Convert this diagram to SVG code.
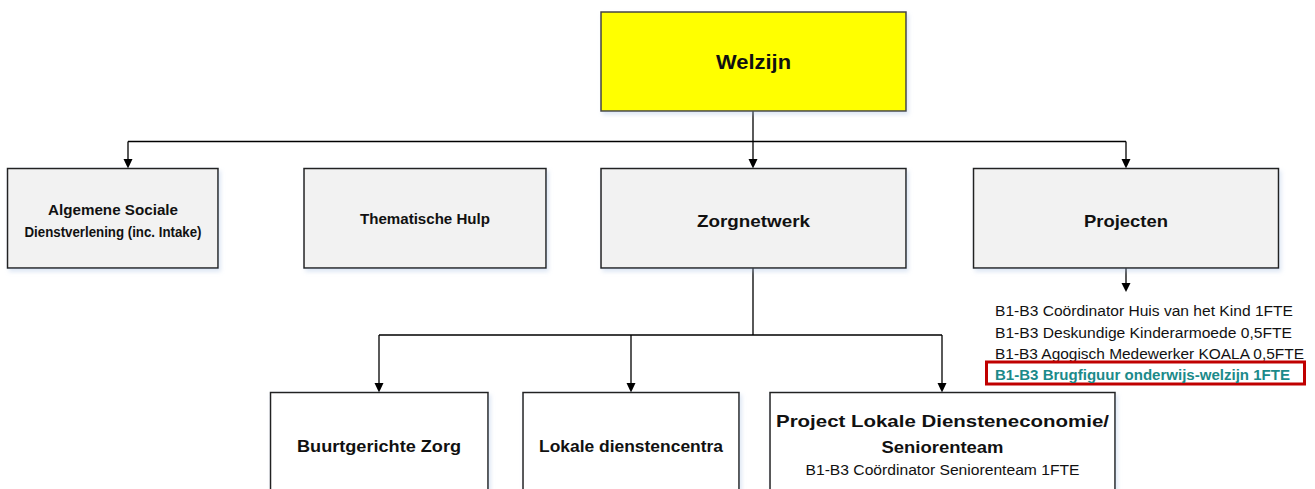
<svg xmlns="http://www.w3.org/2000/svg" width="1315" height="489" viewBox="0 0 1315 489">
<style>
.box{fill:#f2f2f2;stroke:#222;stroke-width:1.5;filter:url(#sh)}
.top{fill:#ffff00;stroke:#444;stroke-width:1.5;filter:url(#sh)}
.wbox{fill:#ffffff;stroke:#222;stroke-width:1.5;filter:url(#sh)}
.t{font-family:"Liberation Sans",Arial,sans-serif;font-weight:bold;fill:#111;text-anchor:middle}
.n{font-family:"Liberation Sans",Arial,sans-serif;fill:#111}
.c{fill:none;stroke:#000;stroke-width:1.3}
.ah{fill:#000}
</style>
<defs>
<filter id="sh" x="-10%" y="-10%" width="130%" height="130%">
<feDropShadow dx="2" dy="3" stdDeviation="2" flood-color="#9db8e0" flood-opacity="0.35"/>
</filter>
</defs>

<g id="connectors">
<path class="c" d="M753,111 V141.5"/>
<path class="c" d="M128,141.5 H1126"/>
<path class="c" d="M128,141.5 V159"/>
<path class="ah" d="M123.5,159 L132.5,159 L128,168.5 Z"/>
<path class="c" d="M753,141.5 V159"/>
<path class="ah" d="M748.5,159 L757.5,159 L753,168.5 Z"/>
<path class="c" d="M1126,141.5 V159"/>
<path class="ah" d="M1121.5,159 L1130.5,159 L1126,168.5 Z"/>
<path class="c" d="M1126,268 V283"/>
<path class="ah" d="M1121.5,283 L1130.5,283 L1126,292 Z"/>
<path class="c" d="M753,268 V335 M379,335 H942"/>
<path class="c" d="M379,335 V383"/>
<path class="ah" d="M374.5,383 L383.5,383 L379,392.5 Z"/>
<path class="c" d="M631,335 V383"/>
<path class="ah" d="M626.5,383 L635.5,383 L631,392.5 Z"/>
<path class="c" d="M942,335 V383"/>
<path class="ah" d="M937.5,383 L946.5,383 L942,392.5 Z"/>
</g>

<g id="welzijn">
<rect class="top" x="601" y="12" width="305" height="99"/>
<text class="t" x="753.5" y="69" font-size="21" textLength="75" lengthAdjust="spacingAndGlyphs">Welzijn</text>
</g>

<g id="algemene">
<rect class="box" x="7.5" y="168.5" width="210.5" height="99.5"/>
<text class="t" x="113" y="215" font-size="14" textLength="130" lengthAdjust="spacingAndGlyphs">Algemene Sociale</text>
<text class="t" x="113" y="237" font-size="14" textLength="177" lengthAdjust="spacingAndGlyphs">Dienstverlening (inc. Intake)</text>
</g>

<g id="thematische">
<rect class="box" x="304" y="168.5" width="242" height="99.5"/>
<text class="t" x="425" y="224" font-size="14" textLength="130" lengthAdjust="spacingAndGlyphs">Thematische Hulp</text>
</g>

<g id="zorgnetwerk">
<rect class="box" x="601" y="168.5" width="305" height="99.5"/>
<text class="t" x="753.5" y="227" font-size="17" textLength="113" lengthAdjust="spacingAndGlyphs">Zorgnetwerk</text>
</g>

<g id="projecten">
<rect class="box" x="973.5" y="168.5" width="305" height="99.5"/>
<text class="t" x="1126" y="227" font-size="17" textLength="84" lengthAdjust="spacingAndGlyphs">Projecten</text>
</g>

<g id="projecten-list">
<text class="n" x="995" y="316" font-size="14" textLength="298" lengthAdjust="spacingAndGlyphs">B1-B3 Coördinator Huis van het Kind 1FTE</text>
<text class="n" x="995" y="338" font-size="14" textLength="297" lengthAdjust="spacingAndGlyphs">B1-B3 Deskundige Kinderarmoede 0,5FTE</text>
<text class="n" x="995" y="359" font-size="14" textLength="309" lengthAdjust="spacingAndGlyphs">B1-B3 Agogisch Medewerker KOALA 0,5FTE</text>
<rect x="986.5" y="362" width="318" height="22" fill="none" stroke="#c00000" stroke-width="3"/>
<text class="n" x="995" y="380" font-size="14" font-weight="bold" style="fill:#1b8a8a" textLength="295" lengthAdjust="spacingAndGlyphs">B1-B3 Brugfiguur onderwijs-welzijn 1FTE</text>
</g>

<g id="buurtgerichte">
<rect class="wbox" x="270.5" y="392.5" width="217.5" height="110"/>
<text class="t" x="379" y="452" font-size="17" textLength="164" lengthAdjust="spacingAndGlyphs">Buurtgerichte Zorg</text>
</g>

<g id="lokale">
<rect class="wbox" x="523" y="392.5" width="216" height="110"/>
<text class="t" x="631" y="452" font-size="17" textLength="184" lengthAdjust="spacingAndGlyphs">Lokale dienstencentra</text>
</g>

<g id="project-lokale">
<rect class="wbox" x="770" y="392.5" width="345" height="110"/>
<text class="t" x="942.5" y="427" font-size="17" textLength="333" lengthAdjust="spacingAndGlyphs">Project Lokale Diensteneconomie/</text>
<text class="t" x="942.5" y="452.5" font-size="17" textLength="122" lengthAdjust="spacingAndGlyphs">Seniorenteam</text>
<text class="n" x="942.5" y="475" font-size="14" text-anchor="middle" textLength="274" lengthAdjust="spacingAndGlyphs">B1-B3 Coördinator Seniorenteam 1FTE</text>
</g>
</svg>
